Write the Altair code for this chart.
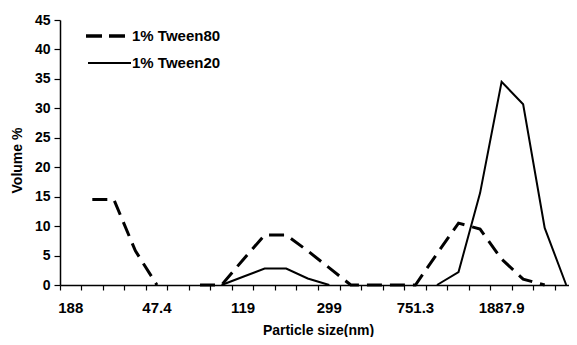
import altair as alt
import pandas as pd

categories = ["188", "23.7", "29.9", "37.6", "47.4", "59.7", "75.2", "94.6",
              "119", "150", "189", "238", "299", "377", "475", "597",
              "751.3", "946", "1191", "1499", "1887.9", "2377", "2993", "3768"]
shown_labels = ["188", "47.4", "119", "299", "751.3", "1887.9"]
tween80 = [None, 14.5, 14.5, 5.8, 0, None, 0, 0, 4.3, 8.5, 8.5, 5.8, 2.9, 0,
           0, 0, 0, 5.3, 10.5, 9.5, 4.4, 1.0, 0, None]
tween20 = [None, None, None, None, None, None, None, 0, 1.4, 2.8, 2.8, 1.1, 0,
           None, None, None, None, 0, 2.2, 15.6, 34.5, 30.7, 9.7, 0]
series_names = ["1% Tween80", "1% Tween20"]
y_ticks = [0, 5, 10, 15, 20, 25, 30, 35, 40, 45]

FONT = "Liberation Sans"

df80 = pd.DataFrame({"size": categories, "volume": tween80})
df20 = pd.DataFrame({"size": categories, "volume": tween20})

label_list = "[" + ",".join("'" + s + "'" for s in shown_labels) + "]"

x_enc = alt.X(
    "size:O",
    sort=categories,
    scale=alt.Scale(type="band", domain=categories, paddingInner=0, paddingOuter=0,
                    range=[0, 517]),
    axis=alt.Axis(
        title="Particle size(nm)",
        labelExpr=f"indexof({label_list}, datum.value) >= 0 ? datum.label : ''",
        labelAngle=0,
        labelOverlap=False,
        bandPosition=0,
        tickSize=5,
        labelPadding=10,
        labelFont=FONT, labelFontSize=15, labelFontWeight="bold", labelColor="black",
        titleFont=FONT, titleFontSize=14, titleFontWeight="bold", titleColor="black",
        titleX=258, titleY=45, titleBaseline="middle",
        domainColor="black", domainWidth=1.5, tickColor="black", tickWidth=1.2,
        grid=False,
    ),
)
y_enc = alt.Y(
    "volume:Q",
    scale=alt.Scale(domain=[0, 45], nice=False),
    axis=alt.Axis(
        title="Volume %",
        values=y_ticks,
        tickCount=10,
        labelOverlap=False,
        labelBound=False,
        tickSize=6,
        labelPadding=4,
        labelFont=FONT, labelFontSize=14, labelFontWeight="bold", labelColor="black",
        titleFont=FONT, titleFontSize=14, titleFontWeight="bold", titleColor="black",
        titleX=-36, titleY=140,
        domainColor="black", domainWidth=1.5, tickColor="black", tickWidth=1.2,
        grid=False,
    ),
)

line80 = alt.Chart(df80).mark_line(
    color="black", strokeWidth=3, strokeDash=[15, 8],
    invalid="break-paths-filter-domains",
).encode(x=x_enc, y=y_enc)

line20 = alt.Chart(df20).mark_line(
    color="black", strokeWidth=2,
    invalid="break-paths-filter-domains",
).encode(x=x_enc, y=y_enc)

one = alt.Data(values=[{"k": 1}])
leg_dash = alt.Chart(one).mark_rule(color="black", strokeWidth=3.5, strokeDash=[16, 7]).encode(
    x=alt.value(26), x2=alt.value(67), y=alt.value(16))
leg_solid = alt.Chart(one).mark_rule(color="black", strokeWidth=2).encode(
    x=alt.value(28), x2=alt.value(71), y=alt.value(43))
leg_t1 = alt.Chart(one).mark_text(align="left", baseline="middle", font=FONT, fontSize=15,
                                  fontWeight="bold", color="black").encode(
    x=alt.value(72), y=alt.value(16), text=alt.value(series_names[0]))
leg_t2 = alt.Chart(one).mark_text(align="left", baseline="middle", font=FONT, fontSize=15,
                                  fontWeight="bold", color="black").encode(
    x=alt.value(72), y=alt.value(43), text=alt.value(series_names[1]))

chart = alt.layer(line80, line20, leg_dash, leg_solid, leg_t1, leg_t2).properties(
    width=509, height=265,
    padding={"left": 52, "top": 12, "right": 0, "bottom": 52},
    autosize=alt.AutoSizeParams(type="none"),
).configure_view(stroke=None)

chart.save("out.html", embed_options={"renderer": "svg", "actions": False})
